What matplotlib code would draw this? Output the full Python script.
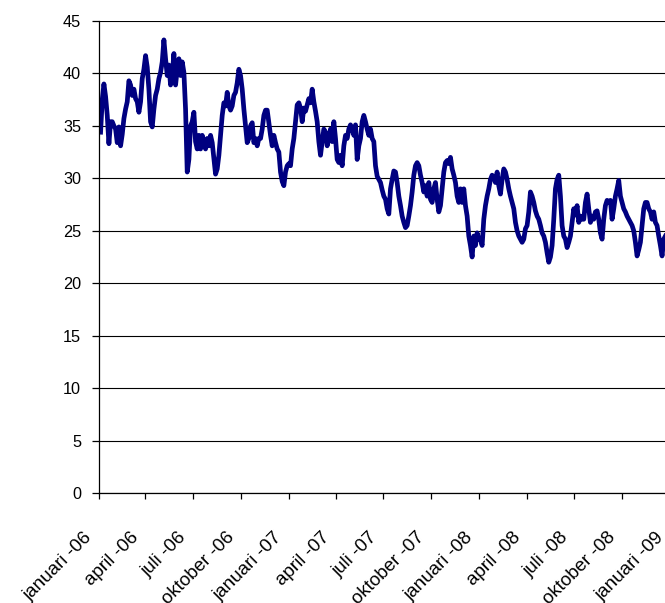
import numpy as np
import pandas as pd
import matplotlib
matplotlib.use("Agg")
import matplotlib.pyplot as plt
from matplotlib.transforms import ScaledTranslation

plt.rcParams['font.family'] = ['Liberation Sans', 'DejaVu Sans']

# values, evenly spaced in time
values = [
    34.4, 37.5, 39.0, 37.8, 36.0, 33.3, 35.4, 35.4, 35.0, 34.7, 33.4, 34.9, 33.1, 34.2,
    35.7, 36.6, 37.3, 39.3, 38.9, 37.9, 38.5, 37.6, 37.3, 36.3, 37.3, 39.5, 40.4, 41.7,
    40.6, 38.5, 35.4, 34.9, 36.6, 37.9, 38.5, 39.5, 40.1, 41.1, 43.2, 41.4, 39.8, 40.8,
    38.9, 39.8, 41.9, 38.9, 40.4, 41.4, 39.8, 41.1, 40.1, 36.6, 30.6, 31.8, 35.0, 35.4,
    36.3, 33.5,
    32.8, 34.1, 32.8, 34.1, 33.4, 32.8, 33.8, 33.1, 34.1, 33.4, 31.9, 30.4, 30.9, 32.2,
    34.1, 36.0, 37.2, 36.9, 38.2, 36.9, 36.5, 36.9, 37.9, 38.2, 39.1, 40.4, 39.8, 38.5,
    36.6, 35.0, 33.4, 33.8, 35.0, 35.3, 33.4, 33.8, 33.1, 33.8, 33.8, 34.7, 36.0, 36.5,
    36.5, 35.3, 34.1, 33.1, 34.1, 33.4, 32.8, 32.5, 30.6, 29.7, 29.3, 30.6, 31.2, 31.4,
    31.2, 32.8, 33.8, 35.4, 37.0, 37.2, 36.7, 35.4, 36.7, 36.4, 37.0, 37.6, 37.2, 38.5,
    37.3, 36.4, 35.4, 33.5, 32.2, 33.5, 34.7, 34.4, 33.1, 33.8, 34.7, 33.5, 35.4, 33.8,
    31.8, 31.5, 32.2, 31.2, 33.1, 34.1, 33.8, 34.7, 35.1, 34.7, 34.1, 35.1, 31.8, 33.1,
    33.8, 35.4, 36.0, 35.4, 34.7, 34.1, 34.7, 33.8, 33.5, 31.2, 30.2, 29.9, 29.6, 28.9,
    28.3,
    28.0, 27.1, 26.6, 29.0, 29.9, 30.7, 30.6, 29.6, 28.3, 27.4, 26.4, 25.8, 25.3, 25.5,
    26.4, 27.4, 28.7, 30.3, 31.2, 31.5, 31.2, 30.3, 29.6, 28.7, 29.3, 28.3, 29.6, 28.0,
    27.7, 29.0, 29.6, 28.0, 26.8, 27.4, 29.0, 30.6, 31.5, 31.7, 31.4, 32.0, 30.9, 30.3,
    29.6, 28.3, 27.7, 29.0, 27.7, 29.0, 27.4, 26.4, 24.5, 23.6, 22.5, 24.5, 23.6, 24.8,
    24.2,
    24.2, 23.6, 26.1, 27.4, 28.3, 29.0, 29.9, 30.3, 30.1, 29.6, 30.6, 29.3, 28.5, 29.9,
    30.9, 30.6, 29.9, 29.0, 28.3, 27.7, 27.1, 25.8, 25.0, 24.5, 24.2, 23.9, 24.2, 25.2,
    25.5, 26.8, 28.7, 28.3, 27.7, 26.9, 26.4, 26.1, 25.5, 24.8, 24.5, 23.9, 22.9, 22.0,
    22.5, 23.6, 26.1, 29.0, 29.9, 30.3, 28.3, 25.5, 24.5, 24.2, 23.4, 23.9, 24.5, 25.8,
    27.1,
    26.5, 27.4, 25.8, 26.4, 26.1, 26.1, 27.7, 28.5, 27.1, 25.8, 26.4, 26.1, 26.8, 26.9,
    26.1, 24.8, 24.2, 26.1, 27.4, 27.9, 27.7, 27.9, 26.1, 27.1, 28.3, 29.0, 29.8, 28.3,
    27.7, 27.1, 26.8, 26.4, 26.1, 25.8, 25.5, 25.0, 23.9, 22.6, 23.2, 23.9, 25.5, 27.1,
    27.7, 27.7, 27.1, 26.8, 26.1, 26.8, 25.8, 25.5, 24.5, 23.6, 22.6, 24.2, 24.5,
]
dates = pd.date_range("2006-01-05", "2008-12-23", periods=len(values))

tick_dates = pd.date_range("2006-01-01", "2009-01-01", freq="QS")
tick_labels = [
    "januari -06", "april -06", "juli -06", "oktober -06",
    "januari -07", "april -07", "juli -07", "oktober -07",
    "januari -08", "april -08", "juli -08", "oktober -08",
    "januari -09",
]

fig = plt.figure(figsize=(6.65, 6.03), dpi=100)
ax = fig.add_axes([98.5 / 665, 110 / 603, 581.5 / 665, 472 / 603])

ax.plot(dates, values, color="#000080", lw=3.4, solid_joinstyle="round")

ax.set_ylim(0, 45)
ax.set_yticks(np.arange(0, 46, 5))
ax.set_xlim(pd.Timestamp("2006-01-01"), pd.Timestamp("2006-01-01") + pd.Timedelta(days=1115))
ax.set_xticks(tick_dates)
ax.set_xticklabels(tick_labels)

ax.yaxis.grid(True, color="black", lw=0.8)
ax.set_axisbelow(True)
for s in ["top", "right"]:
    ax.spines[s].set_visible(False)
for s in ["left", "bottom"]:
    ax.spines[s].set_linewidth(0.9)

ax.tick_params(axis="y", length=5, width=0.9, pad=7.5, labelsize=11.7)
ax.tick_params(axis="x", length=4, width=0.9, pad=26, labelsize=13.5)

shift = ScaledTranslation(-0.09, 0, fig.dpi_scale_trans)
for lab in ax.get_xticklabels():
    lab.set_rotation(45)
    lab.set_ha("right")
    lab.set_va("center")
    lab.set_rotation_mode("anchor")
    lab.set_transform(lab.get_transform() + shift)

fig.savefig("out.png", dpi=100)
